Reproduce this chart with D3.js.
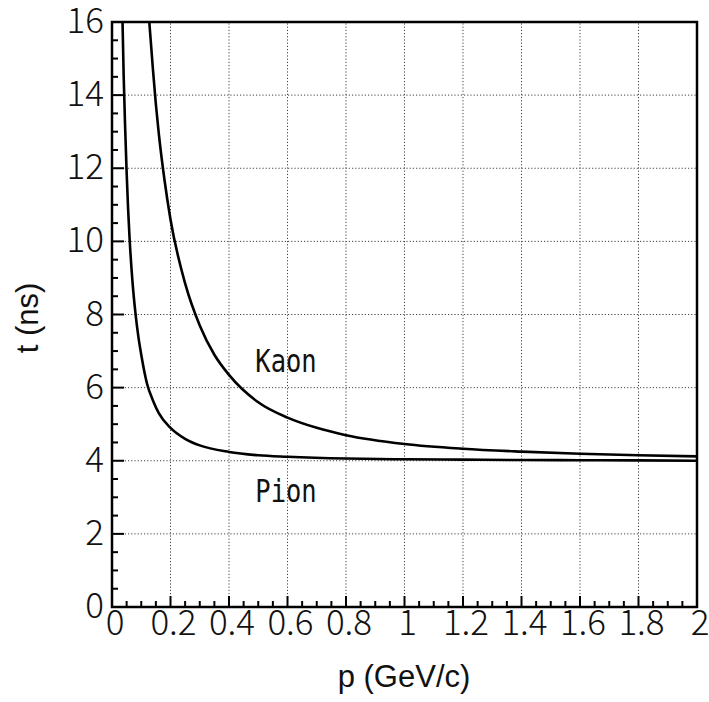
<!DOCTYPE html>
<html>
<head>
  <meta charset="utf-8">
  <title>Time of flight</title>
  <script src="https://cdnjs.cloudflare.com/ajax/libs/d3/7.8.5/d3.min.js"></script>
  <style>
    body { margin: 0; background: #fff; }
    .grid line { stroke: #444; stroke-width: 1; stroke-dasharray: 1.2,2; }
    .tick-label { font-family: "Noto Sans CJK JP", "Noto Sans", sans-serif; font-weight: 300; font-size: 35px; fill: #111; }
    .axis-title { font-family: "Liberation Sans", Arial, sans-serif; font-size: 31px; fill: #111; }
    .curve-label { font-family: "DejaVu Sans Mono", monospace; font-size: 26px; fill: #111; }
  </style>
</head>
<body>
<svg id="chart" width="709" height="702"></svg>
<script>
// momentum values (GeV/c) and flight times (ns)
var pionP = [0.036, 0.04, 0.045, 0.05, 0.055, 0.06, 0.07, 0.08, 0.09, 0.1, 0.12, 0.14, 0.16, 0.2, 0.25, 0.3, 0.4, 0.5, 0.6, 0.8, 1.0, 1.2, 1.4, 1.6, 1.8, 2.0];
var pionT = [16.0, 14.5, 13.1, 11.9, 10.9, 10.1, 8.9, 8.05, 7.4, 6.9, 6.1, 5.65, 5.3, 4.9, 4.6, 4.42, 4.24, 4.15, 4.11, 4.06, 4.04, 4.03, 4.02, 4.015, 4.01, 4.0];

var kaonP = [0.1275, 0.14, 0.15, 0.16, 0.18, 0.2, 0.25, 0.3, 0.35, 0.4, 0.5, 0.6, 0.7, 0.8, 1.0, 1.2, 1.4, 1.6, 1.8, 2.0];
var kaonT = [16.0, 14.7, 13.75, 12.95, 11.65, 10.6, 8.85, 7.7, 6.9, 6.35, 5.6, 5.18, 4.9, 4.7, 4.46, 4.33, 4.25, 4.19, 4.15, 4.12];

var xTicks = [0, 0.2, 0.4, 0.6, 0.8, 1, 1.2, 1.4, 1.6, 1.8, 2];
var xTickLabels = ["0", "0.2", "0.4", "0.6", "0.8", "1", "1.2", "1.4", "1.6", "1.8", "2"];
var yTicks = [0, 2, 4, 6, 8, 10, 12, 14, 16];
var yTickLabels = ["0", "2", "4", "6", "8", "10", "12", "14", "16"];

var labelNames = ["Kaon", "Pion"];
var labelP = [0.49, 0.49];
var labelT = [6.44, 2.87];

var margin = {left: 112, top: 22, right: 12, bottom: 95};
var width = 709, height = 702;

var x = d3.scaleLinear().domain([0, 2]).range([margin.left, width - margin.right]);
var y = d3.scaleLinear().domain([0, 16]).range([height - margin.bottom, margin.top]);

var svg = d3.select("#chart");

// grid
var grid = svg.append("g").attr("class", "grid");
grid.selectAll("line.vx")
    .data(xTicks.filter(d => d > 0 && d < 2))
    .enter().append("line")
    .attr("x1", d => x(d)).attr("x2", d => x(d))
    .attr("y1", y(0)).attr("y2", y(16));
grid.selectAll("line.hy")
    .data(yTicks.filter(d => d > 0 && d < 16))
    .enter().append("line")
    .attr("x1", x(0)).attr("x2", x(2))
    .attr("y1", d => y(d)).attr("y2", d => y(d));

// inward ticks, minor and major
var xMinor = d3.range(0, 2.0001, 0.05);
var yMinor = d3.range(0, 16.0001, 0.5);
var ticks = svg.append("g").attr("stroke", "#000").attr("stroke-width", 2);
ticks.selectAll("line.xt")
    .data(xMinor)
    .enter().append("line")
    .attr("x1", d => x(d)).attr("x2", d => x(d))
    .attr("y1", y(0))
    .attr("y2", (d, i) => y(0) - (i % 4 === 0 ? 11 : 6));
ticks.selectAll("line.yt")
    .data(yMinor)
    .enter().append("line")
    .attr("y1", d => y(d)).attr("y2", d => y(d))
    .attr("x1", x(0))
    .attr("x2", (d, i) => x(0) + (i % 4 === 0 ? 12 : 6));

// curves
var line = d3.line()
    .x(d => x(d[0]))
    .y(d => y(d[1]))
    .curve(d3.curveMonotoneX);

svg.append("defs").append("clipPath").attr("id", "clip")
    .append("rect")
    .attr("x", x(0)).attr("y", y(16))
    .attr("width", x(2) - x(0)).attr("height", y(0) - y(16));

[[pionP, pionT], [kaonP, kaonT]].forEach(function(s) {
  svg.append("path")
      .datum(d3.zip(s[0], s[1]))
      .attr("clip-path", "url(#clip)")
      .attr("fill", "none")
      .attr("stroke", "#000")
      .attr("stroke-width", 2.6)
      .attr("d", line);
});

// frame
svg.append("rect")
    .attr("x", x(0)).attr("y", y(16))
    .attr("width", x(2) - x(0)).attr("height", y(0) - y(16))
    .attr("fill", "none")
    .attr("stroke", "#000")
    .attr("stroke-width", 2.5);

// tick labels
svg.selectAll("text.xl")
    .data(xTicks)
    .enter().append("text")
    .attr("class", "tick-label")
    .attr("x", d => x(d) + 3)
    .attr("y", y(0) + 28)
    .attr("text-anchor", "middle")
    .text((d, i) => xTickLabels[i]);

svg.selectAll("text.yl")
    .data(yTicks)
    .enter().append("text")
    .attr("class", "tick-label")
    .attr("x", x(0) - 8)
    .attr("y", d => y(d) + 11)
    .attr("text-anchor", "end")
    .text((d, i) => yTickLabels[i]);

// curve labels, stretched vertically like the original glyphs
svg.selectAll("text.cl")
    .data(labelNames)
    .enter().append("text")
    .attr("class", "curve-label")
    .attr("transform", (d, i) => "translate(" + x(labelP[i]) + "," + y(labelT[i]) + ") scale(0.98,1.2)")
    .text(d => d);

// axis titles
svg.append("text")
    .attr("class", "axis-title")
    .attr("x", 404).attr("y", 687)
    .attr("text-anchor", "middle")
    .text("p (GeV/c)");

svg.append("text")
    .attr("class", "axis-title")
    .attr("transform", "translate(38,318) rotate(-90)")
    .attr("text-anchor", "middle")
    .text("t (ns)");
</script>
</body>
</html>
